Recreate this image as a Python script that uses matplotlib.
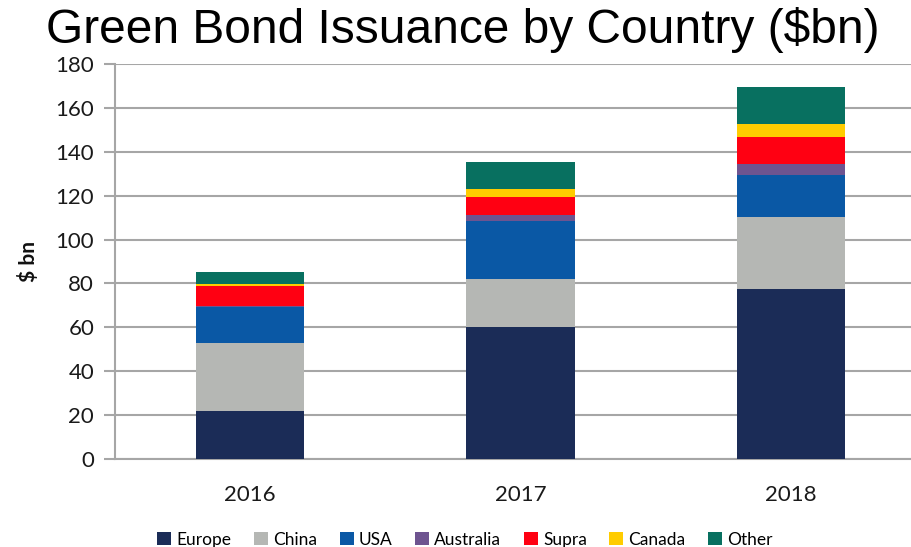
import matplotlib
matplotlib.use("Agg")
import matplotlib.pyplot as plt
import numpy as np
from matplotlib.patches import Patch

years = ["2016", "2017", "2018"]
series = ["Europe", "China", "USA", "Australia", "Supra", "Canada", "Other"]
europe = [22.0, 60.0, 77.3]
china = [30.9, 22.2, 32.9]
usa = [16.2, 26.3, 19.2]
australia = [0.5, 2.7, 4.9]
supra = [9.4, 8.4, 12.6]
canada = [0.6, 3.4, 5.8]
other = [5.8, 12.5, 17.0]
colors = ["#1B2C57", "#B5B7B4", "#0A58A5", "#6E5490", "#FF0012", "#FFCC00", "#087060"]
yticks = [0, 20, 40, 60, 80, 100, 120, 140, 160, 180]

values = [europe, china, usa, australia, supra, canada, other]

fig = plt.figure(figsize=(9.12, 5.47), dpi=100)
ax = fig.add_axes([115/912, 88/547, 811/912, 395/547])

x = np.arange(len(years))
bottom = np.zeros(len(years))
for name, vals, c in zip(series, values, colors):
    ax.bar(x, vals, width=0.4, bottom=bottom, color=c, label=name, zorder=3)
    bottom += np.array(vals)

ax.set_xlim(-0.5, 2.5)
ax.set_ylim(0, 180)
ax.set_yticks(yticks)
ax.yaxis.grid(True, color="#A6A6A6", linewidth=1.5, zorder=0)
ax.set_axisbelow(True)
for s in ["top", "right"]:
    ax.spines[s].set_visible(False)
ax.spines["left"].set_color("#A6A6A6")
ax.spines["bottom"].set_color("#A6A6A6")
ax.spines["left"].set_linewidth(1.5)
ax.spines["bottom"].set_linewidth(1.5)
ax.tick_params(axis="y", length=8, width=1.5, color="#A6A6A6", labelsize=16,
               labelcolor="#1a1a1a", pad=7)
ax.tick_params(axis="x", length=0, labelsize=16, labelcolor="#1a1a1a", pad=19)
ax.set_xticks(x)
ax.set_xticklabels(years)
for lab in ax.get_xticklabels() + ax.get_yticklabels():
    lab.set_family("Lato")

ax.set_ylabel("$ bn", fontsize=15, fontweight="bold", family="Lato", labelpad=12, color="#111111")

fig.text(0.507, 0.945, "Green Bond Issuance by Country ($bn)", ha="center", va="center",
         fontsize=34.5, family="Liberation Sans", color="black")

handles = [Patch(facecolor=c, label=n) for n, c in zip(series, colors)]
fig.legend(handles=handles, loc="center", bbox_to_anchor=(0.51, 0.013), ncol=7, frameon=False,
           prop={"family": "Lato", "size": 12.5}, handlelength=0.8, handleheight=0.8,
           handletextpad=0.3, columnspacing=1.3)

fig.savefig("out.png", dpi=100)
